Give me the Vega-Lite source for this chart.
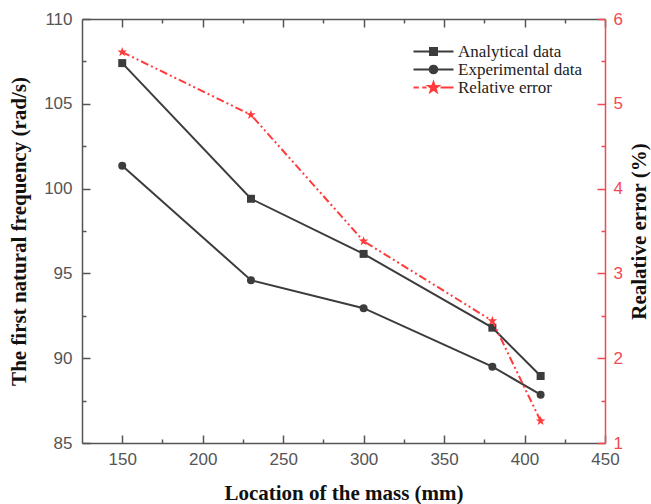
{
  "$schema": "https://vega.github.io/schema/vega-lite/v6.json",
  "autosize": "none",
  "width": 523,
  "height": 424,
  "padding": {"left": 82, "top": 19, "right": 46, "bottom": 61},
  "background": "white",
  "config": {
    "view": {"stroke": null},
    "axis": {"grid": false, "labelFont": "Liberation Sans", "labelFontSize": 17, "labelColor": "#555555", "titleFont": "Liberation Serif", "titleFontWeight": "bold", "titleFontSize": 21, "titleColor": "#111111", "domainColor": "#555555", "domainWidth": 1.5, "tickColor": "#555555", "tickWidth": 1.5}
  },
  "data": {
    "values": [
      {"x": 150, "series": "Analytical data", "v": 107.4},
      {"x": 230, "series": "Analytical data", "v": 99.4},
      {"x": 300, "series": "Analytical data", "v": 96.15},
      {"x": 380, "series": "Analytical data", "v": 91.8},
      {"x": 410, "series": "Analytical data", "v": 88.95},
      {"x": 150, "series": "Experimental data", "v": 101.35},
      {"x": 230, "series": "Experimental data", "v": 94.6},
      {"x": 300, "series": "Experimental data", "v": 92.95},
      {"x": 380, "series": "Experimental data", "v": 89.5},
      {"x": 410, "series": "Experimental data", "v": 87.85},
      {"x": 150, "series": "Relative error", "v": 5.61},
      {"x": 230, "series": "Relative error", "v": 4.87},
      {"x": 300, "series": "Relative error", "v": 3.38},
      {"x": 380, "series": "Relative error", "v": 2.44},
      {"x": 410, "series": "Relative error", "v": 1.26}
    ]
  },
  "layer": [
    {
      "transform": [{"filter": "datum.series !== 'Relative error'"}],
      "encoding": {
        "x": {"field": "x", "type": "quantitative", "scale": {"domain": [125, 450], "nice": false, "zero": false},
          "axis": {"orient": "bottom", "title": "Location of the mass (mm)", "values": [150,175,200,225,250,275,300,325,350,375,400,425,450],
            "labelExpr": "datum.value % 50 === 0 ? datum.label : ''",
            "tickSize": {"condition": {"test": "datum.value % 50 === 0", "value": -8}, "value": -4},
            "labelPadding": 16, "titlePadding": 15, "labelFlush": false}},
        "y": {"field": "v", "type": "quantitative", "scale": {"domain": [85, 110], "nice": false, "zero": false},
          "axis": {"orient": "left", "title": "The first natural frequency (rad/s)", "values": [85,87.5,90,92.5,95,97.5,100,102.5,105,107.5,110],
            "labelExpr": "datum.value % 5 === 0 ? datum.label : ''",
            "tickSize": {"condition": {"test": "datum.value % 5 === 0", "value": -8}, "value": -4},
            "labelPadding": 18, "titlePadding": 14, "labelFlush": false}}
      },
      "layer": [
        {"mark": {"type": "line", "color": "#3c3c3c", "strokeWidth": 2}, "encoding": {"detail": {"field": "series"}}},
        {"transform": [{"filter": "datum.series === 'Analytical data'"}], "mark": {"type": "point", "shape": "square", "filled": true, "size": 64, "color": "#3c3c3c", "opacity": 1}},
        {"transform": [{"filter": "datum.series === 'Experimental data'"}], "mark": {"type": "point", "shape": "circle", "filled": true, "size": 64, "color": "#3c3c3c", "opacity": 1}}
      ]
    },
    {
      "transform": [{"filter": "datum.series === 'Relative error'"}],
      "encoding": {
        "x": {"field": "x", "type": "quantitative", "scale": {"domain": [125, 450], "nice": false, "zero": false},
          "axis": {"orient": "top", "title": null, "labels": false, "values": [150,175,200,225,250,275,300,325,350,375,400,425,450],
            "tickSize": {"condition": {"test": "datum.value % 50 === 0", "value": -8}, "value": -4}}},
        "y": {"field": "v", "type": "quantitative", "scale": {"domain": [1, 6], "nice": false, "zero": false},
          "axis": {"orient": "right", "title": "Realative error (%)", "titleAngle": 270, "values": [1,1.5,2,2.5,3,3.5,4,4.5,5,5.5,6],
            "labelExpr": "datum.value % 1 === 0 ? format(datum.value, 'd') : ''",
            "tickSize": {"condition": {"test": "datum.value % 1 === 0", "value": -8}, "value": -4},
            "domainColor": "#f04a55", "tickColor": "#f04a55", "labelColor": "#f04a55",
            "labelPadding": 16, "titlePadding": 27, "labelFlush": false}}
      },
      "layer": [
        {"mark": {"type": "line", "color": "#ff3b3b", "strokeWidth": 2, "strokeDash": [8, 3, 2, 3, 2, 3]}},
        {"mark": {"type": "point", "shape": "M0,-0.75L0.176,-0.243L0.713,-0.232L0.285,0.093L0.441,0.607L0,0.3L-0.441,0.607L-0.285,0.093L-0.713,-0.232L-0.176,-0.243Z", "filled": true, "size": 180, "color": "#ff3b3b", "opacity": 1}}
      ]
    },
    {
      "transform": [{"filter": "datum.x < 0"}],
      "mark": {"type": "point", "filled": true, "opacity": 1, "strokeWidth": 2},
      "encoding": {
        "shape": {"field": "series", "type": "nominal",
          "scale": {"domain": ["Analytical data", "Experimental data", "Relative error"],
            "range": ["M-2.86,0H2.86M-0.5,-0.5H0.5V0.5H-0.5Z",
                      "M-2.86,0H2.86M0.55,0A0.55,0.55,0,1,1,-0.55,0A0.55,0.55,0,1,1,0.55,0Z",
                      "M-2.86,0H-2.1M-1.6,0H-1.0M1.0,0H2.86M0,-0.75L0.176,-0.243L0.713,-0.232L0.285,0.093L0.441,0.607L0,0.3L-0.441,0.607L-0.285,0.093L-0.713,-0.232L-0.176,-0.243Z"]},
          "legend": {"title": null, "orient": "none", "legendX": 343, "legendY": 24, "padding": 0, "symbolSize": 196, "symbolStrokeWidth": 2, "labelOffset": 16, "labelFont": "Liberation Serif", "labelFontSize": 17, "labelColor": "#222222", "rowPadding": 0}},
        "fill": {"field": "series", "type": "nominal",
          "scale": {"domain": ["Analytical data", "Experimental data", "Relative error"], "range": ["#3c3c3c", "#3c3c3c", "#ff3b3b"]},
          "legend": {"title": null, "orient": "none", "legendX": 343, "legendY": 24, "padding": 0, "symbolSize": 196, "symbolStrokeWidth": 2, "labelOffset": 16, "labelFont": "Liberation Serif", "labelFontSize": 17, "labelColor": "#222222", "rowPadding": 0}},
        "stroke": {"field": "series", "type": "nominal",
          "scale": {"domain": ["Analytical data", "Experimental data", "Relative error"], "range": ["#3c3c3c", "#3c3c3c", "#ff3b3b"]},
          "legend": {"title": null, "orient": "none", "legendX": 343, "legendY": 24, "padding": 0, "symbolSize": 196, "symbolStrokeWidth": 2, "labelOffset": 16, "labelFont": "Liberation Serif", "labelFontSize": 17, "labelColor": "#222222", "rowPadding": 0}}
      }
    }
  ],
  "resolve": {"scale": {"y": "independent"}, "axis": {"x": "independent", "y": "independent"}}
}
